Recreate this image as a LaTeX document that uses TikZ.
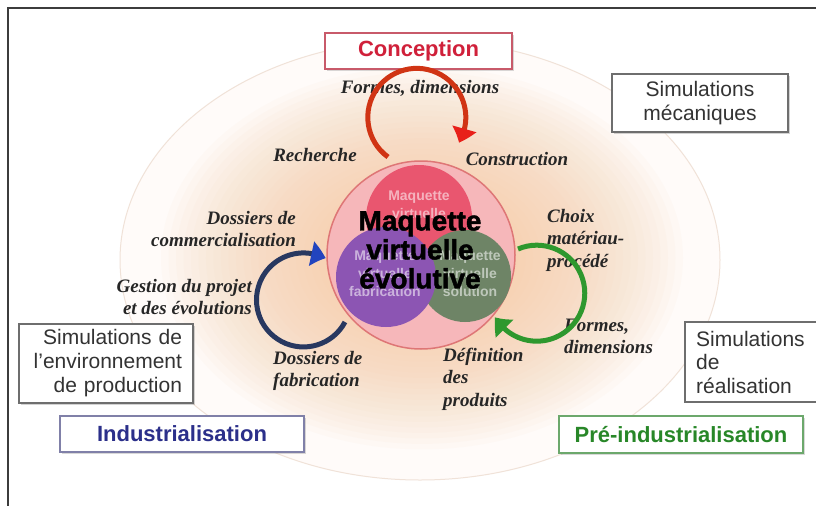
\documentclass[tikz,border=0pt]{standalone}
\usepackage{fontspec}
\setmainfont{Liberation Serif}
\setsansfont{Liberation Sans}
\newfontfamily\heavyfont{Liberation Sans}[BoldFeatures={FakeBold=1.5}]
\usetikzlibrary{arrows.meta,shadows,bending}
\definecolor{peachA}{RGB}{247,200,160}
\definecolor{peachD}{RGB}{255,251,249}
\definecolor{edgecol}{RGB}{240,226,216}
\definecolor{framecol}{RGB}{60,60,60}
\definecolor{outerpink}{RGB}{246,183,186}
\definecolor{outerline}{RGB}{222,118,118}
\definecolor{toppink}{RGB}{233,86,111}
\definecolor{purplec}{RGB}{140,85,179}
\definecolor{greenc}{RGB}{110,132,102}
\definecolor{conred}{RGB}{208,32,58}
\definecolor{conline}{RGB}{200,90,106}
\definecolor{indblue}{RGB}{43,47,138}
\definecolor{indline}{RGB}{128,128,168}
\definecolor{preg}{RGB}{40,135,40}
\definecolor{preline}{RGB}{108,168,108}
\definecolor{boxline}{RGB}{110,110,110}
\definecolor{arrred}{RGB}{208,52,20}
\definecolor{arrredh}{RGB}{232,32,26}
\definecolor{arrblue}{RGB}{40,56,96}
\definecolor{arrblueh}{RGB}{34,68,190}
\definecolor{arrgreen}{RGB}{46,152,46}
\begin{document}
\begin{tikzpicture}[x=1pt,y=-1pt,
  simbox/.style={draw=boxline, line width=1.3pt, fill=white, inner sep=0pt,
    font=\sffamily\fontsize{21}{24}\selectfont, text=black!80,
    drop shadow={shadow xshift=1.5pt, shadow yshift=-1.5pt, opacity=0.35}},
  phasebox/.style={line width=1.3pt, fill=white, inner sep=0pt,
    font=\sffamily\bfseries\fontsize{22}{26}\selectfont,
    drop shadow={shadow xshift=1.5pt, shadow yshift=-1.5pt, opacity=0.3}},
  lab/.style={inner sep=0pt, font=\bfseries\itshape\fontsize{19}{22.5}\selectfont, text=black!85},
  faint/.style={inner sep=0pt, align=center, text=white, text opacity=0.55,
    font=\sffamily\bfseries\fontsize{14}{18}\selectfont},
  cyc/.style={line width=5pt},
]
\useasboundingbox (0,0) rectangle (816,506);
\fill[white] (0,0) rectangle (816,506);
% background ellipse with stepped radial glow
\filldraw[fill=peachD, draw=edgecol, line width=1pt] (420,260) ellipse [x radius=300pt, y radius=220pt];
\foreach \s in {0.87,0.845,...,0.1}{
  \fill[peachA, opacity=0.052] (422,258) ellipse [x radius=300*\s pt, y radius=220*\s pt];
}
% frame
\draw[framecol, line width=1.5pt] (816,8) -- (8,8) -- (8,506);
% central circles
\node[circle, minimum size=188pt, inner sep=0pt, fill=outerpink, draw=outerline, line width=1.5pt] (outer) at (421,255) {};
\node[circle, minimum size=106pt, inner sep=0pt, fill=toppink] (ctop) at (419,218) {};
\node[circle, minimum size=92pt, inner sep=0pt, fill=greenc] (cgreen) at (465,276) {};
\node[circle, minimum size=100pt, inner sep=0pt, fill=purplec] (cpurple) at (386,277) {};
\node[faint] (ttop) at (419,205) {Maquette\\virtuelle};
\node[faint] (tpurple) at (385,274) {Maquette\\virtuelle\\fabrication};
\node[faint] (tgreen) at (470,274) {Maquette\\virtuelle\\solution};
\node[inner sep=0pt, align=center, font=\heavyfont\bfseries\fontsize{28}{29}\selectfont, text=black] (mve) at (420,250) {Maquette\\virtuelle\\évolutive};
% labels
\node[lab] (formes1) at (420,88) {Formes, dimensions};
\node[lab] (rech) at (315,155) {Recherche};
\node[lab] (constr) at (517,159) {Construction};
\node[lab, anchor=east, align=right] (dcom) at (296,229) {Dossiers de\\commercialisation};
\node[lab, anchor=east, align=right] (gest) at (252,297) {Gestion du projet\\et des évolutions};
\node[lab, anchor=west, align=left] (dfab) at (273,371) {Dossiers de\\fabrication};
\node[lab, anchor=west, align=left] (defp) at (443,379) {Définition\\des\\produits};
\node[lab, anchor=west, align=left] (choix) at (547,240) {Choix\\matériau-\\procédé};
\node[lab, anchor=west, align=left] (formes2) at (564,336.5) {Formes,\\dimensions};
% boxes
\node[phasebox, draw=conline, text=conred, minimum width=187pt, minimum height=36pt] (concep) at (418.5,51) {Conception};
\node[simbox, minimum width=176pt, minimum height=58pt, align=center] (simmeca) at (700,103) {Simulations\\mécaniques};
\node[simbox, minimum width=174pt, minimum height=79pt, text width=152pt, align=right] (simenv) at (106,363.5) {Simulations de\\l'environnement\\de production};
\fill[white] (685,322) rectangle (816,402);
\draw[boxline, line width=1.3pt] (818,322) -- (685,322) -- (685,402) -- (818,402);
\node[inner sep=0pt, anchor=west, align=left, font=\sffamily\fontsize{21}{23.5}\selectfont, text=black!80] (simreal) at (696,362) {Simulations\\de\\réalisation};
\node[phasebox, draw=indline, text=indblue, minimum width=244pt, minimum height=36pt] (indus) at (182,434) {Industrialisation};
\node[phasebox, draw=preline, text=preg, minimum width=244pt, minimum height=37pt] (preind) at (681,434.5) {Pré-industrialisation};
% cycle arrows
\coordinate (rs) at (388,157);
\coordinate (bs) at (345,322);
\coordinate (gs) at (518,249);
\draw[cyc, arrred, -{Triangle[width=24pt,length=15pt,color=arrredh,bend]}] (rs) arc[start angle=234, end angle=-31, radius=49pt];
\draw[cyc, arrblue, -{Triangle[width=24pt,length=15pt,color=arrblueh,bend]}] (bs) arc[start angle=-28, end angle=-298, radius=47pt];
\draw[cyc, arrgreen, -{Triangle[width=24pt,length=15pt,bend]}] (gs) arc[start angle=113, end angle=-150, radius=48pt];
\end{tikzpicture}
\end{document}
